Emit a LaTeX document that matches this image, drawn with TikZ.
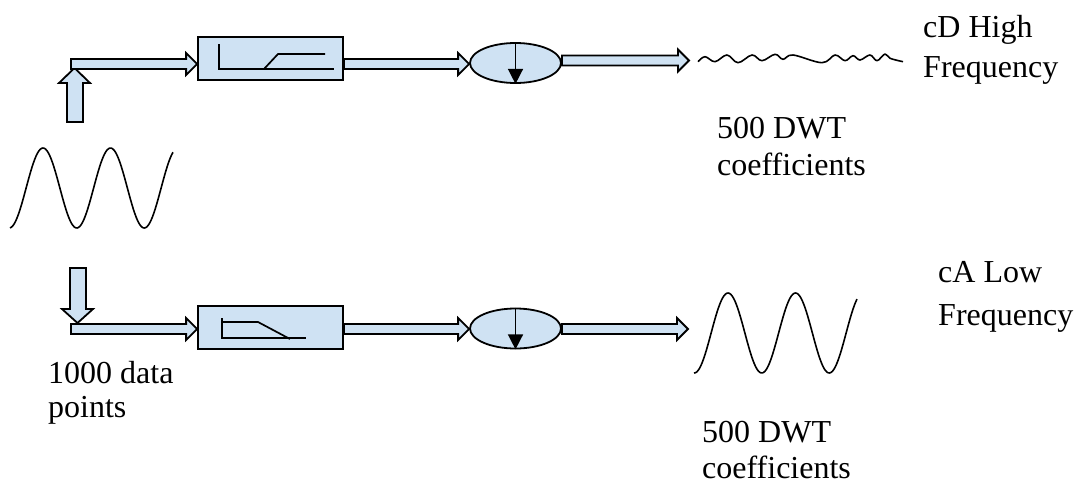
\documentclass[tikz,border=0pt]{standalone}
\usepackage{fontspec}
\setmainfont{Liberation Serif}
\usetikzlibrary{calc,shapes.geometric,arrows.meta}

\definecolor{paleblue}{RGB}{207,226,243}

\tikzset{
  x=1pt, y=-1pt,
  outline/.style={draw=black, line width=1.8pt, line join=miter},
  filterbox/.style={outline, fill=paleblue, rectangle, inner sep=0pt,
                    minimum width=145pt, minimum height=43pt},
  downsample/.style={outline, fill=paleblue, ellipse, inner sep=0pt,
                     minimum width=91pt, minimum height=40pt},
  fatbody/.style={outline, fill=paleblue},
  response/.style={line width=1.7pt},
  signal/.style={line width=1.6pt, line join=round},
  label/.style={anchor=base west, inner sep=0pt, align=left},
}

% fat block arrow from the x of #1 to the x of #2, at the height of #3
\newcommand\fatarrow[3]{%
  \path[fatbody] let \p1=(#1), \p2=(#2), \p3=(#3) in
    (\x1,\y3+5pt) -- (\x2-11pt,\y3+5pt) -- (\x2-11pt,\y3+11pt) --
    (\x2,\y3) -- (\x2-11pt,\y3-11pt) -- (\x2-11pt,\y3-5pt) --
    (\x1,\y3-5pt) -- cycle;}

\begin{document}
\begin{tikzpicture}
\useasboundingbox (0,0) rectangle (1075,485);

% ---- input signal -------------------------------------------------
\draw[signal] plot[domain=10:173, samples=120]
  (\x, {188-40*cos(5.3333*(\x-43))});

% ---- detail branch (top) ------------------------------------------
\node[filterbox]  (hpf) at (270.5,58.5) {};
\node[downsample] (dsD) at (515.5,63) {};
\coordinate (inD)  at (71,64);
\coordinate (outD) at (689,60.5);

% up arrow feeding the top branch
\path[fatbody] (67,122) -- (67,83) -- (59,83) -- (74.5,68) -- (90,83)
  -- (83,83) -- (83,122) -- cycle;

\fatarrow{inD}{hpf.west}{inD}
\fatarrow{hpf.east}{dsD.west}{inD}
\fatarrow{dsD.east}{outD}{outD}

% high-pass response sketch
\draw[response] (219,44) -- (219,69) -- (334,69);
\draw[response] (264,69) -- (278,54) -- (325,54);

% downsampling symbol
\draw[line width=1.5pt, -{Triangle[length=15pt,width=15pt]}]
  (dsD.north) -- (dsD.south);

% detail coefficients
\draw[signal] plot[smooth, tension=0.6] coordinates {
  (698,61.7) (705,56.7) (715,61.7) (727,55) (738,62.7) (752,55)
  (762,60.7) (775,54.3) (783,59.3) (793,55) (822,62.7) (835,55)
  (845,60.7) (853,55.7) (860,60) (870,55) (877,60.7) (885,54)
  (890,58.3) (903,61.7)};

% ---- approximation branch (bottom) --------------------------------
\node[filterbox]  (lpf) at (270.5,327.5) {};
\node[downsample] (dsA) at (515.5,328.5) {};
\coordinate (inA)  at (71,329);
\coordinate (outA) at (688,329);

% down arrow feeding the bottom branch
\path[fatbody] (70,268) -- (70,309) -- (62,309) -- (77.5,323) -- (93,309)
  -- (86,309) -- (86,268) -- cycle;

\fatarrow{inA}{lpf.west}{inA}
\fatarrow{lpf.east}{dsA.west}{inA}
\fatarrow{dsA.east}{outA}{outA}

% low-pass response sketch
\draw[response] (222,318) -- (222,338) -- (306,338);
\draw[response] (222,322) -- (258,322) -- (290,339);

\draw[line width=1.5pt, -{Triangle[length=15pt,width=15pt]}]
  (dsA.north) -- (dsA.south);

% approximation coefficients
\draw[signal] plot[domain=694:857, samples=120]
  (\x, {333-40*cos(5.3333*(\x-728))});

% ---- labels (anchored at the baseline of the last line) ------------
\node[label, font=\fontsize{32}{40}\selectfont] (tD) at (923,77)
  {cD High\\Frequency};
\node[label, font=\fontsize{32}{37}\selectfont] (nD) at (717,175)
  {500 DWT\\coefficients};
\node[label, font=\fontsize{32}{43}\selectfont] (tA) at (938,325)
  {cA Low\\Frequency};
\node[label, font=\fontsize{32}{36}\selectfont] (nA) at (702,478)
  {500 DWT\\coefficients};
\node[label, font=\fontsize{32}{34}\selectfont] (nIn) at (48,417)
  {1000 data\\points};
\end{tikzpicture}
\end{document}
